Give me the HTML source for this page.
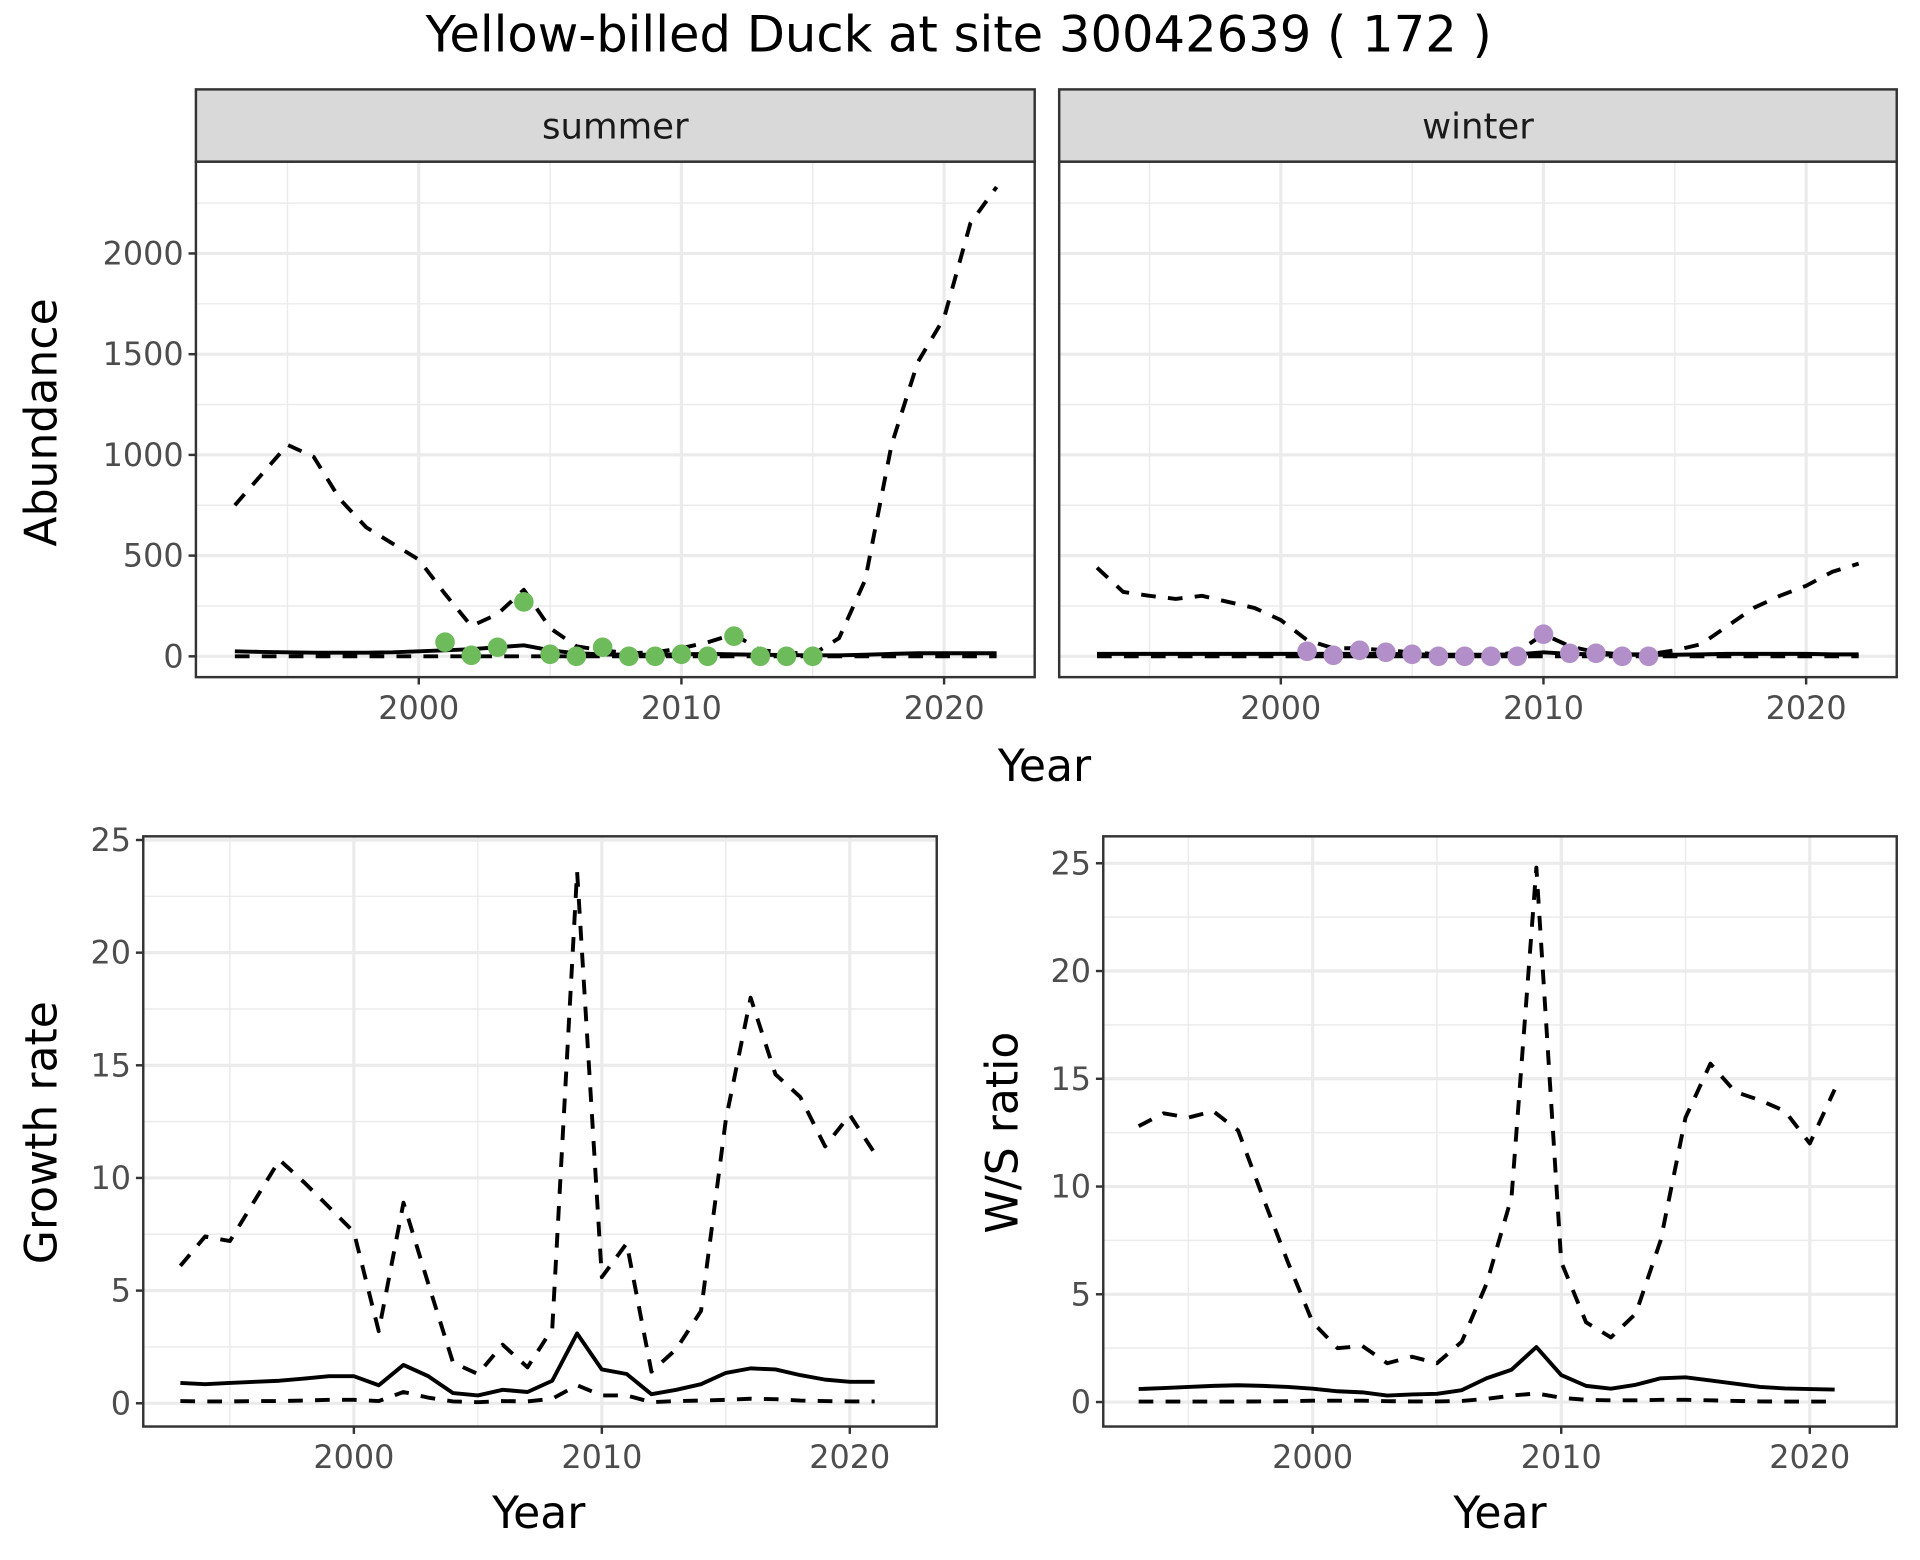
<!DOCTYPE html>
<html><head><meta charset="utf-8"><style>
html,body{margin:0;padding:0;background:#fff}
svg{display:block}
text{font-family:"DejaVu Sans","Liberation Sans",sans-serif}
</style></head><body>
<svg id="chart" width="1920" height="1560" viewBox="0 0 1568 1274" xmlns="http://www.w3.org/2000/svg">
<rect width="1568" height="1274" fill="#fff"/>
<text x="783" y="42" font-size="40.5" text-anchor="middle" fill="#000">Yellow-billed Duck at site 30042639 ( 172 )</text>
<g id="g"></g>
<text transform="translate(46,345) rotate(-90)" font-size="36" text-anchor="middle" fill="#000">Abundance</text>
<text x="853" y="638" font-size="36" text-anchor="middle" fill="#000">Year</text>
<text transform="translate(46,925) rotate(-90)" font-size="36" text-anchor="middle" fill="#000">Growth rate</text>
<text transform="translate(831,925) rotate(-90)" font-size="36" text-anchor="middle" fill="#000">W/S ratio</text>
<text x="440" y="1248" font-size="36" text-anchor="middle" fill="#000">Year</text>
<text x="1225" y="1248" font-size="36" text-anchor="middle" fill="#000">Year</text>
</svg>
<script>
const years = [1993,1994,1995,1996,1997,1998,1999,2000,2001,2002,2003,2004,2005,2006,2007,2008,2009,2010,2011,2012,2013,2014,2015,2016,2017,2018,2019,2020,2021,2022];
const summerUpper = [750,900,1050,990,780,640,560,480,310,150,210,330,140,50,30,15,20,40,70,110,30,20,10,90,380,1050,1460,1680,2150,2330];
const summerMean = [25,22,20,18,18,18,20,25,30,35,45,55,30,15,10,8,8,10,12,10,8,6,5,5,8,12,15,15,15,15];
const summerLower = [0,0,0,0,0,0,0,0,0,0,0,0,0,0,0,0,0,0,0,0,0,0,0,0,0,0,0,0,0,0];
const summerObsYears = [2001,2002,2003,2004,2005,2006,2007,2008,2009,2010,2011,2012,2013,2014,2015];
const summerObs = [70,5,45,270,10,0,45,0,0,10,0,100,0,0,0];
const winterUpper = [440,320,300,285,300,270,240,180,80,40,40,30,20,10,5,5,20,110,50,20,10,10,30,60,150,240,300,350,420,460];
const winterMean = [12,12,12,12,12,12,12,12,12,12,12,12,10,8,8,8,10,20,12,10,8,8,8,10,12,12,12,12,10,10];
const winterLower = [0,0,0,0,0,0,0,0,0,0,0,0,0,0,0,0,0,0,0,0,0,0,0,0,0,0,0,0,0,0];
const winterObsYears = [2001,2002,2003,2004,2005,2006,2007,2008,2009,2010,2011,2012,2013,2014];
const winterObs = [25,5,30,20,10,0,0,0,0,110,15,15,0,0];
const gYears = [1993,1994,1995,1996,1997,1998,1999,2000,2001,2002,2003,2004,2005,2006,2007,2008,2009,2010,2011,2012,2013,2014,2015,2016,2017,2018,2019,2020,2021];
const growthUpper = [6.1,7.4,7.2,9.0,10.8,9.8,8.7,7.6,3.2,8.9,5.3,1.8,1.3,2.6,1.6,3.3,23.6,5.6,7.1,1.4,2.4,4.1,12.6,18.0,14.6,13.6,11.4,12.8,11.1];
const growthMean = [0.9,0.85,0.9,0.95,1.0,1.1,1.2,1.2,0.8,1.7,1.2,0.45,0.35,0.6,0.5,1.0,3.1,1.5,1.3,0.4,0.6,0.85,1.35,1.55,1.5,1.25,1.05,0.95,0.95];
const growthLower = [0.1,0.08,0.08,0.1,0.1,0.12,0.15,0.15,0.1,0.5,0.25,0.08,0.05,0.1,0.08,0.2,0.8,0.35,0.35,0.05,0.1,0.12,0.15,0.2,0.18,0.12,0.1,0.08,0.08];
const ratioUpper = [12.8,13.4,13.2,13.5,12.6,9.5,6.5,3.7,2.5,2.6,1.8,2.1,1.8,2.8,5.5,9.5,24.8,6.5,3.7,3.0,4.1,7.5,13.2,15.7,14.4,14.0,13.5,12.0,14.5];
const ratioMean = [0.6,0.65,0.7,0.75,0.78,0.75,0.7,0.62,0.5,0.45,0.3,0.35,0.38,0.55,1.1,1.5,2.55,1.25,0.75,0.62,0.8,1.1,1.15,1.0,0.85,0.7,0.63,0.6,0.58];
const ratioLower = [0.02,0.02,0.02,0.02,0.02,0.03,0.04,0.06,0.06,0.06,0.04,0.03,0.03,0.05,0.15,0.3,0.4,0.2,0.1,0.08,0.08,0.1,0.1,0.08,0.05,0.03,0.02,0.02,0.02];
const abTicks = [0,500,1000,1500,2000];
const grTicks = [0,5,10,15,20,25];
const xTicks = [2000,2010,2020];

const NS='http://www.w3.org/2000/svg';
const G=document.getElementById('g');
function el(tag,attrs,parent){const e=document.createElementNS(NS,tag);for(const k in attrs)e.setAttribute(k,attrs[k]);(parent||G).appendChild(e);return e;}
function txt(s,attrs,parent){const e=el('text',attrs,parent);e.textContent=s;return e;}

function panel(p){
  const g=el('g',{});
  
  
  const X=v=>p.x0+(v-p.xa)*(p.x1-p.x0)/(p.xb-p.xa);
  const Y=v=>p.y0+(v-p.ya)*(p.y1-p.y0)/(p.yb-p.ya);
  const minor=[];
  p.yt.forEach(v=>minor.push(v+p.ystep/2));minor.push(p.yt[0]-p.ystep/2);
  minor.forEach(m=>{const yy=Y(m);if(yy>p.top&&yy<p.bot)el('line',{x1:p.left,x2:p.right,y1:yy,y2:yy,stroke:'#ebebeb','stroke-width':1.2},g);});
  [1995,2005,2015].forEach(v=>{const xx=X(v);el('line',{x1:xx,x2:xx,y1:p.top,y2:p.bot,stroke:'#ebebeb','stroke-width':1.2},g);});
  p.yt.forEach(v=>{const yy=Y(v);el('line',{x1:p.left,x2:p.right,y1:yy,y2:yy,stroke:'#ebebeb','stroke-width':2.6},g);});
  xTicks.forEach(v=>{const xx=X(v);el('line',{x1:xx,x2:xx,y1:p.top,y2:p.bot,stroke:'#ebebeb','stroke-width':2.6},g);});
  const path=(xs,ys,dash)=>{let d='';xs.forEach((x,i)=>{d+=(i?'L':'M')+X(x).toFixed(1)+','+Y(ys[i]).toFixed(1);});const a={d:d,fill:'none',stroke:'#000','stroke-width':3.2,'stroke-linejoin':'round'};if(dash)a['stroke-dasharray']='12,10';return el('path',a,g);};
  const u=path(p.xs,p.up,true);
  
  
  const l=path(p.xs,p.lo,true);
  
  
  const mn=path(p.xs,p.mean,false);
  
  
  if(p.obs){p.obsX.forEach((x,i)=>{const c=el('circle',{cx:X(x),cy:Y(p.obs[i]),r:8,fill:p.col},g);
    
    });}
  el('rect',{x:p.left,y:p.top,width:p.right-p.left,height:p.bot-p.top,fill:'none',stroke:'#333','stroke-width':2},g);
  if(p.ylab){p.yt.forEach(v=>{const yy=Y(v);el('line',{x1:p.left-6,x2:p.left,y1:yy,y2:yy,stroke:'#333','stroke-width':2},g);
    const t=txt(String(v),{x:p.left-10,y:yy+9,'font-size':26,'text-anchor':'end',fill:'#4d4d4d'},g);
    
    });}
  xTicks.forEach(v=>{const xx=X(v);el('line',{x1:xx,x2:xx,y1:p.bot,y2:p.bot+6,stroke:'#333','stroke-width':2},g);
    const t=txt(String(v),{x:xx,y:p.bot+34,'font-size':26,'text-anchor':'middle',fill:'#4d4d4d'},g);
    
    });
  if(p.strip){el('rect',{x:p.left,y:73,width:p.right-p.left,height:p.top-73,fill:'#d9d9d9',stroke:'#333','stroke-width':2},g);
    const t=txt(p.strip,{x:(p.left+p.right)/2,y:113,'font-size':29,'text-anchor':'middle',fill:'#1a1a1a'},g);
    
    }
}
panel({name:'summer-panel',strip:'summer',left:160,right:845,top:132,bot:553,xa:2000,xb:2020,x0:342,x1:771,ya:0,yb:2000,y0:536,y1:207,yt:abTicks,ystep:500,ylab:true,xs:years,up:summerUpper,lo:summerLower,mean:summerMean,obs:summerObs,obsX:summerObsYears,col:'#6dbb5b'});
panel({name:'winter-panel',strip:'winter',left:865,right:1549,top:132,bot:553,xa:2000,xb:2020,x0:1046,x1:1475,ya:0,yb:2000,y0:536,y1:207,yt:abTicks,ystep:500,ylab:false,xs:years,up:winterUpper,lo:winterLower,mean:winterMean,obs:winterObs,obsX:winterObsYears,col:'#b28fc9'});
panel({name:'growth-rate-panel',left:117,right:765,top:683,bot:1165,xa:2000,xb:2020,x0:289,x1:694,ya:0,yb:25,y0:1146,y1:686,yt:grTicks,ystep:5,ylab:true,xs:gYears,up:growthUpper,lo:growthLower,mean:growthMean});
panel({name:'ws-ratio-panel',left:901,right:1549,top:683,bot:1165,xa:2000,xb:2020,x0:1072,x1:1478,ya:0,yb:25,y0:1145,y1:705,yt:grTicks,ystep:5,ylab:true,xs:gYears,up:ratioUpper,lo:ratioLower,mean:ratioMean});
</script>
</body></html>
